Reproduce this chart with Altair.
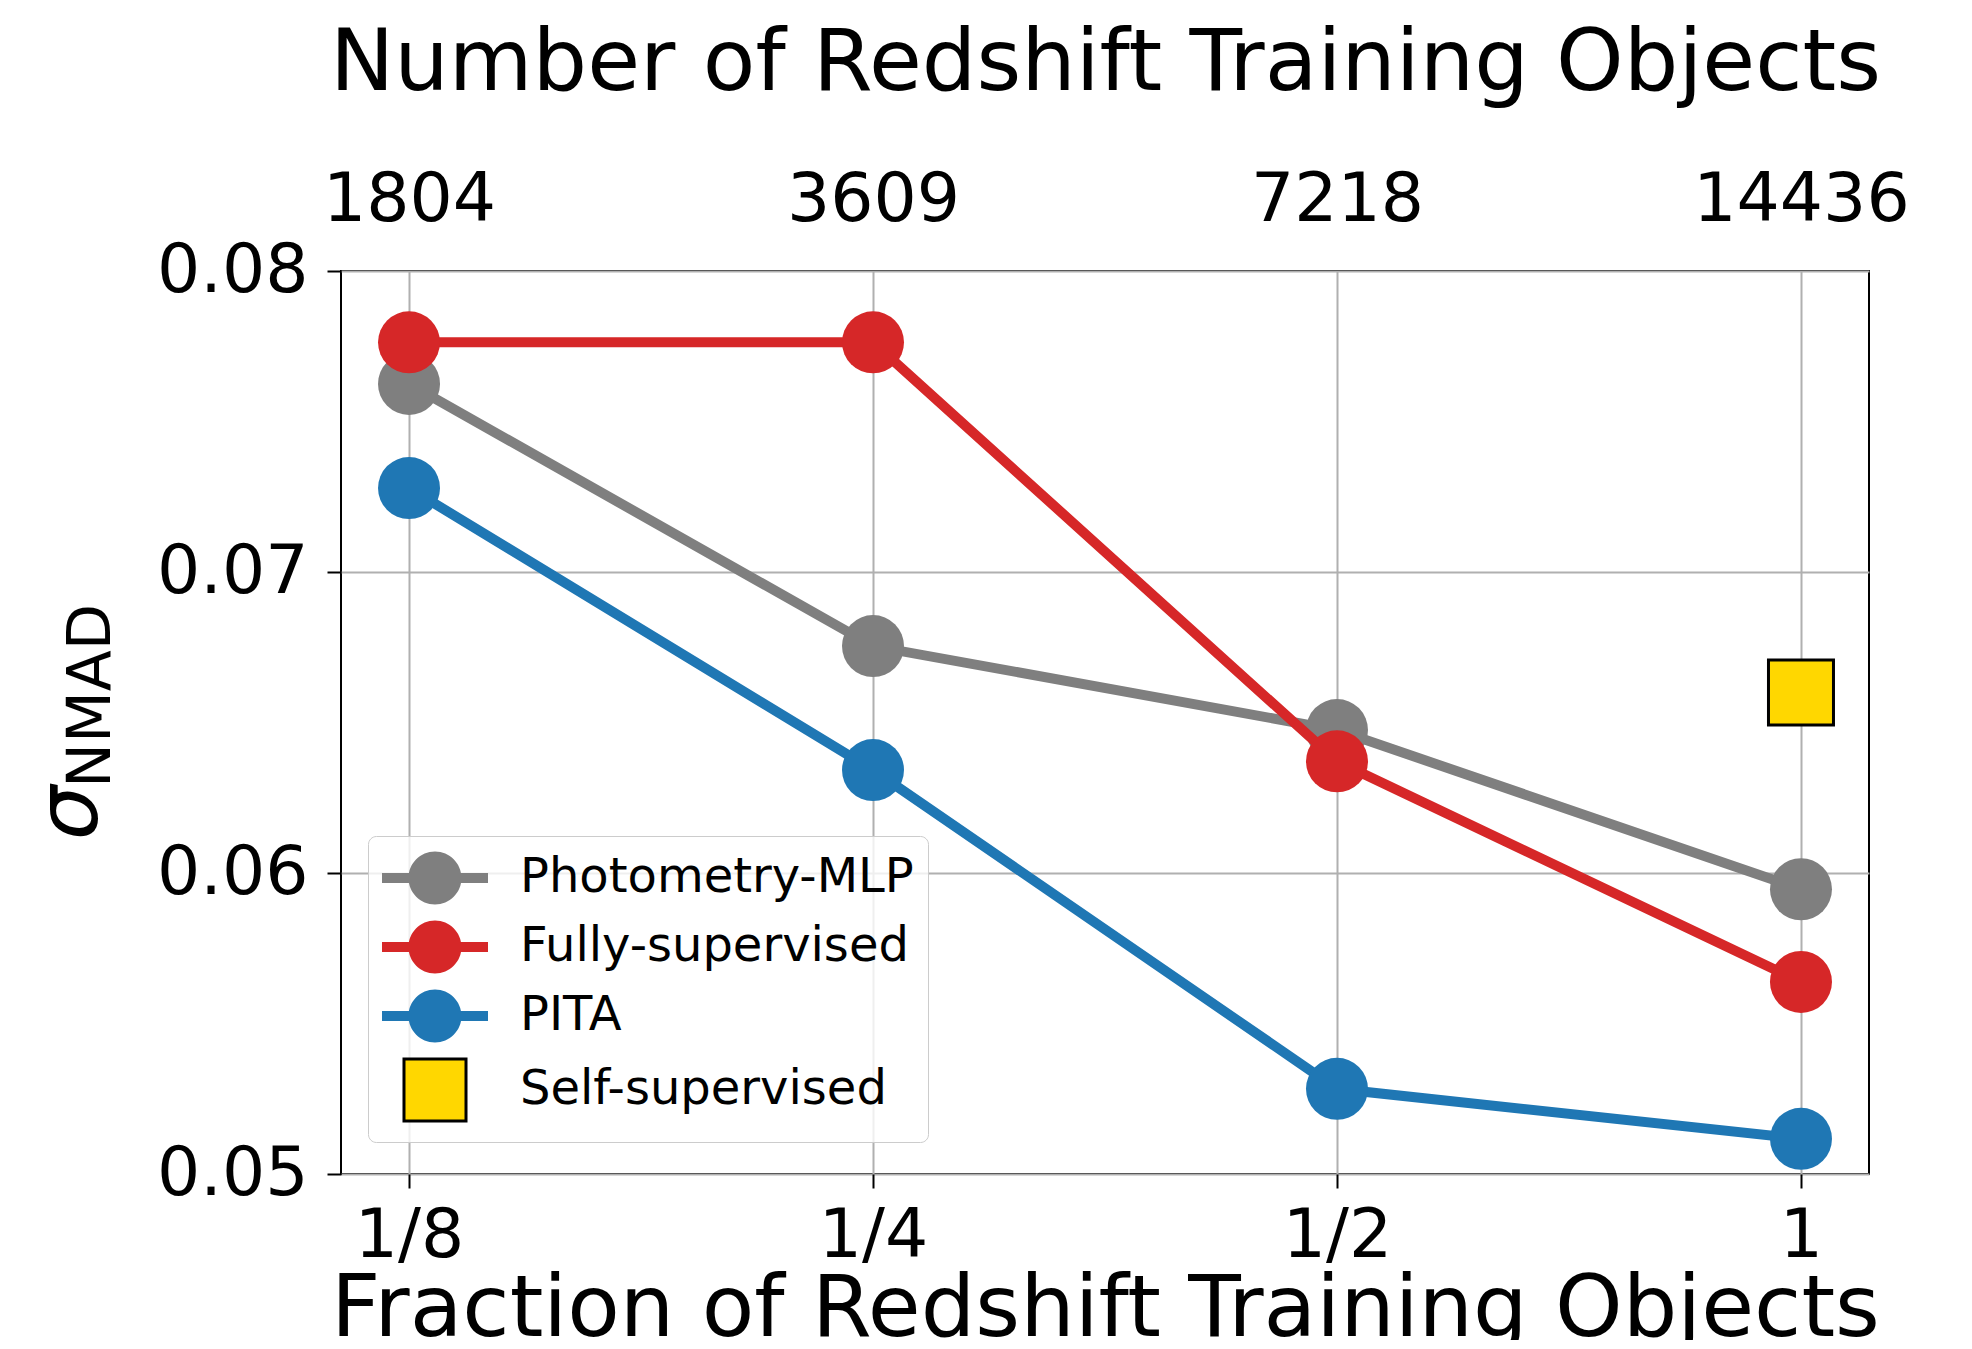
import altair as alt
import pandas as pd

# ---------------- data ----------------
fractions = ["1/8", "1/4", "1/2", "1"]
counts = ["1804", "3609", "7218", "14436"]
methods = ["Photometry-MLP", "Fully-supervised", "PITA", "Self-supervised"]
colors = ["#7f7f7f", "#d62728", "#1f77b4", "#ffd700"]

photometry_mlp = [0.07625, 0.06754, 0.06475, 0.05946]
fully_supervised = [0.07763, 0.07763, 0.06371, 0.05638]
pita = [0.07279, 0.06342, 0.05283, 0.05117]
self_supervised_fraction = ["1"]
self_supervised = [0.0660]

y_ticks = [0.05, 0.06, 0.07, 0.08]
y_title_symbol = ["σ"]
y_title_sub = ["NMAD"]

rows = []
for m, vals in zip(methods[:3], [photometry_mlp, fully_supervised, pita]):
    for f, v in zip(fractions, vals):
        rows.append({"method": m, "fraction": f, "value": v})
series_df = pd.DataFrame(rows)
self_df = pd.DataFrame({"method": ["Self-supervised"] * len(self_supervised),
                        "fraction": self_supervised_fraction,
                        "value": self_supervised})
all_df = pd.concat([series_df, self_df], ignore_index=True)

# ---------------- scales / axes ----------------
FONT = "DejaVu Sans"
x_scale = alt.Scale(type="point", domain=fractions, padding=0.1466)
y_scale = alt.Scale(domain=[0.05, 0.08], nice=False, zero=False)

bottom_axis = alt.Axis(orient="bottom", title="Fraction of Redshift Training Objects",
                       titleFontSize=86, labelFontSize=68, labelAngle=0,
                       tickSize=14, labelPadding=14, grid=True, labelLimit=1000,
                       titleY=161, titleBaseline="alphabetic")

label_expr = " : ".join(
    [f"datum.value == '{f}' ? '{c}'" for f, c in zip(fractions, counts)] + ["''"]
)
top_axis = alt.Axis(orient="top", title="Number of Redshift Training Objects",
                    titleFontSize=86, labelFontSize=68, labelAngle=0,
                    ticks=False, tickSize=0, labelPadding=37, grid=False,
                    labelLimit=1000, labelExpr=label_expr, titleY=-182,
                    titleBaseline="alphabetic")

y_axis = alt.Axis(title=None, values=y_ticks, format=".2f", labelFontSize=68,
                  tickSize=14, labelPadding=19, grid=True, labelLimit=1000)


def xenc(axis=None):
    return alt.X("fraction:N", scale=x_scale, axis=axis)


def yenc():
    return alt.Y("value:Q", scale=y_scale, axis=y_axis)


layers = []
for i, m in enumerate(methods[:3]):
    line = alt.Chart(series_df).transform_filter(alt.datum.method == m).mark_line(
        strokeWidth=10, color=colors[i]
    ).encode(
        x=xenc(bottom_axis if i == 0 else None),
        y=yenc(),
    )
    pts = alt.Chart(series_df).transform_filter(alt.datum.method == m).mark_circle(
        size=3844, opacity=1, color=colors[i]
    ).encode(x=xenc(), y=yenc())
    layers += [line, pts]

square = alt.Chart(self_df).mark_square(
    size=4225, opacity=1, fill=colors[3], stroke="black", strokeWidth=3
).encode(x=xenc(), y=yenc())
layers.append(square)

# legend (invisible layer carrying the merged legend and the top axis)
line_circle = ("M-2,-0.19 L2,-0.19 L2,0.19 L-2,0.19 Z "
               "M-1,0 A1,1 0 1,1 1,0 A1,1 0 1,1 -1,0 Z")
square_path = "M-1.17,-1.17 L1.17,-1.17 L1.17,1.17 L-1.17,1.17 Z"
legend = alt.Legend(title=None, orient="none", legendX=27, legendY=565,
                    direction="vertical", fillColor="rgba(255,255,255,0.8)",
                    strokeColor="#cccccc", cornerRadius=8, padding=14,
                    labelFont=FONT, labelFontSize=48, labelColor="black",
                    labelLimit=1000, symbolSize=2809, symbolStrokeWidth=3,
                    symbolOpacity=1, symbolOffset=25, labelOffset=57, rowPadding=3)
legend_layer = alt.Chart(all_df).mark_point(filled=True, opacity=0, size=10).encode(
    x=xenc(top_axis), y=yenc(),
    fill=alt.Fill("method:N", scale=alt.Scale(domain=methods, range=colors), legend=legend),
    shape=alt.Shape("method:N", scale=alt.Scale(domain=methods,
                    range=[line_circle, line_circle, line_circle, square_path]), legend=legend),
    stroke=alt.Stroke("method:N", scale=alt.Scale(domain=methods,
                      range=["transparent", "transparent", "transparent", "black"]), legend=legend),
)
layers.append(legend_layer)

# y-axis title: sigma with NMAD subscript
sigma = alt.Chart(pd.DataFrame({"t": y_title_symbol})).mark_text(
    font=FONT, fontSize=86, fontStyle="italic", angle=270, align="center",
    baseline="alphabetic", color="black"
).encode(x=alt.value(-244), y=alt.value(542), text="t:N")
sub = alt.Chart(pd.DataFrame({"t": y_title_sub})).mark_text(
    font=FONT, fontSize=60, angle=270, align="center",
    baseline="alphabetic", color="black"
).encode(x=alt.value(-231), y=alt.value(425), text="t:N")
layers += [sigma, sub]

chart = alt.layer(*layers).resolve_axis(x="independent").properties(
    width=1528, height=903, autosize="none",
    padding={"left": 333, "top": 263, "right": 90, "bottom": 166},
).configure_view(
    stroke="black", strokeWidth=2
).configure_axis(
    labelFont=FONT, titleFont=FONT, labelColor="black", titleColor="black",
    tickColor="black", tickWidth=2, domain=False, gridColor="#b0b0b0",
    gridWidth=2, titleFontWeight="normal"
)

chart.save("out.html", embed_options={"renderer": "svg", "actions": False})
